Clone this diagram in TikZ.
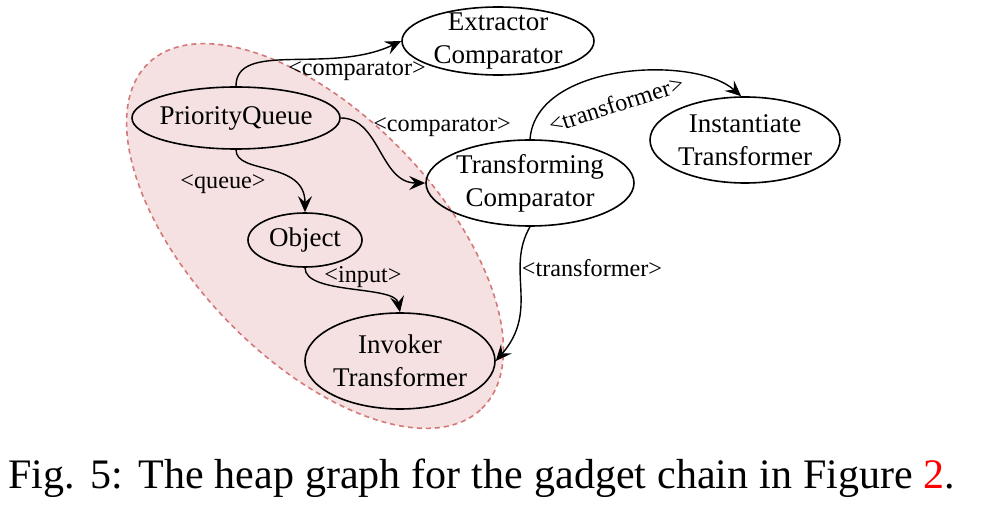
\documentclass[tikz,border=0pt]{standalone}
\usepackage{fontspec}
\setmainfont{Liberation Serif}
\usetikzlibrary{shapes.geometric, arrows.meta}
\definecolor{zonefill}{RGB}{245,225,225}
\definecolor{zoneline}{RGB}{212,120,120}
\tikzset{
  ->,
  >={Stealth[length=8pt,width=7pt,inset=3pt]},
  heap/.style={ellipse, draw, line width=0.8pt, inner xsep=-40pt, inner ysep=-20pt,
    align=center, font=\fontsize{13.5}{16.5}\selectfont},
  lbl/.style={inner sep=0pt, font=\fontsize{12.1}{14}\selectfont},
  zone/.style={-, dash pattern=on 2.5pt off 2pt, draw=zoneline, fill=zonefill, line width=0.8pt},
  link/.style={line width=0.7pt},
}

\begin{document}
\begin{tikzpicture}[x=0.5pt, y=-0.5pt]
      \useasboundingbox (0,0) rectangle (982,508);

      % the attacker-controlled part of the heap
      \coordinate (zc) at (315,236);
      \draw[zone, rotate around={-46:(zc)}] (zc) ellipse [x radius=120pt, y radius=61pt];

      \node[heap, minimum width=104pt, minimum height=31pt] (pq)   at (236,118) {PriorityQueue};
      \node[heap, minimum width=96pt,  minimum height=34pt] (ec)   at (498,41)  {Extractor\\Comparator};
      \node[heap, minimum width=104pt, minimum height=43pt] (tc)   at (530,183) {Transforming\\Comparator};
      \node[heap, minimum width=95pt,  minimum height=43pt] (inst) at (745,140) {Instantiate\\Transformer};
      \node[heap, minimum width=57pt,  minimum height=27pt] (obj)  at (305,240) {Object};
      \node[heap, minimum width=95pt,  minimum height=48pt] (inv)  at (400,361) {Invoker\\Transformer};

      \draw[link] (pq.north) .. controls (236,40) and (330,75) .. (ec.west);
      \draw[link] (pq.east) .. controls (380,118) and (380,183) .. (tc.west);
      \draw[link] (pq.south) .. controls (236,175) and (305,160) .. (obj.north);
      \draw[link] (obj.south) .. controls (305,295) and (395,285) .. (inv.north);
      \draw[link] (tc.north) .. controls (536,62) and (695,55) .. (inst.95);
      \draw[link] (tc.south) .. controls (505,270) and (540,310) .. (inv.east);

      \node[lbl] (lec)  at (357,71)  {<comparator>};
      \node[lbl] (ltc)  at (442,127) {<comparator>};
      \node[lbl] (lq)   at (223,184) {<queue>};
      \node[lbl] (lin)  at (363,277) {<input>};
      \node[lbl, rotate=18] (lti) at (616,104) {<transformer>};
      \node[lbl] (ltv)  at (592,268) {<transformer>};

      \node[anchor=base west, inner sep=0pt, font=\fontsize{21}{25}\selectfont] (cap) at (8,488)
        {\makebox[473.5pt][s]{Fig. 5: The heap graph for the gadget chain in Figure \textcolor{red}{2}.}};
\end{tikzpicture}
\end{document}
